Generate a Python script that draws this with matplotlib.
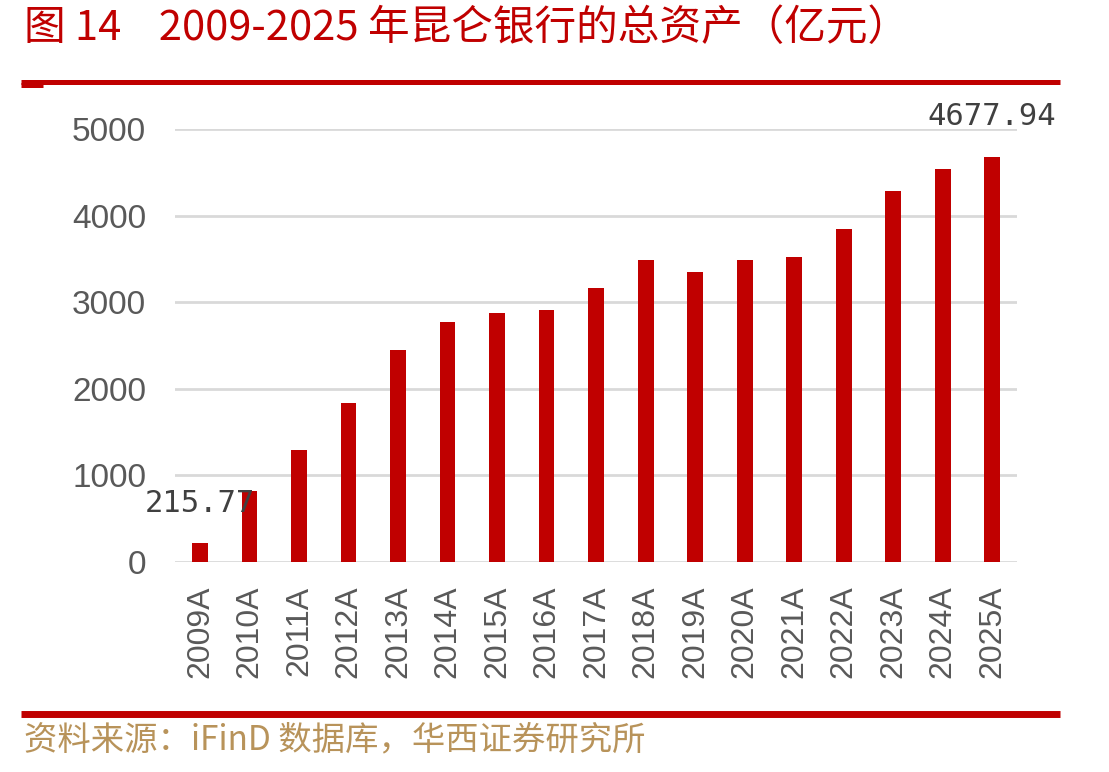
import matplotlib
matplotlib.use("Agg")
import matplotlib.pyplot as plt
from matplotlib.lines import Line2D

plt.rcParams['font.family'] = ['Noto Sans CJK SC', 'DejaVu Sans']

years = ["2009A", "2010A", "2011A", "2012A", "2013A", "2014A", "2015A", "2016A",
         "2017A", "2018A", "2019A", "2020A", "2021A", "2022A", "2023A", "2024A", "2025A"]
assets = [215.77, 820, 1293, 1836, 2448, 2771, 2875, 2910, 3164, 3487, 3349,
          3487, 3522, 3845, 4284, 4538, 4677.94]
yticks = [0, 1000, 2000, 3000, 4000, 5000]
title = "图 14    2009-2025 年昆仑银行的总资产（亿元）"
source = "资料来源：iFinD 数据库，华西证券研究所"

fig = plt.figure(figsize=(11.09, 7.72), dpi=100)
ax = fig.add_axes([0.158, 0.272, 0.759, 0.561])

x = list(range(len(years)))
ax.bar(x, assets, width=0.32, color="#C00000", zorder=3)
ax.set_xlim(-0.5, len(years) - 0.5)
ax.set_ylim(0, 5000)
ax.set_yticks(yticks)
ax.set_yticklabels([str(v) for v in yticks])
ax.set_xticks(x)
ax.set_xticklabels(years, rotation=90)
for lab in ax.get_xticklabels() + ax.get_yticklabels():
    lab.set_fontfamily("Liberation Sans")
ax.tick_params(axis='both', length=0, labelcolor="#595959")
ax.tick_params(axis='y', pad=21, labelsize=24)
ax.tick_params(axis='x', pad=17, labelsize=23)
ax.grid(axis='y', color="#D9D9D9", linewidth=2, zorder=0)
for s in ax.spines.values():
    s.set_visible(False)

for i in (0, len(years) - 1):
    ax.annotate(f"{assets[i]:.2f}", (x[i], assets[i]), xytext=(0, 29),
                textcoords="offset points", ha="center", va="center",
                fontsize=22, color="#404040", family="DejaVu Sans Mono",
                annotation_clip=False, zorder=5)

fig.text(0.022, 0.963, title, fontsize=30, color="#C00000", ha="left", va="center")
fig.add_artist(Line2D([0.019, 0.956], [0.894, 0.894], transform=fig.transFigure,
                      color="#C00000", linewidth=3.6, solid_capstyle="butt"))
fig.add_artist(Line2D([0.019, 0.039], [0.8895, 0.8895], transform=fig.transFigure,
                      color="#C00000", linewidth=3.6, solid_capstyle="butt"))
fig.add_artist(Line2D([0.019, 0.956], [0.0745, 0.0745], transform=fig.transFigure,
                      color="#C00000", linewidth=5, solid_capstyle="butt"))
fig.text(0.022, 0.041, source, fontsize=24, color="#B8935A", ha="left", va="center")

fig.savefig("out.png", dpi=100)
